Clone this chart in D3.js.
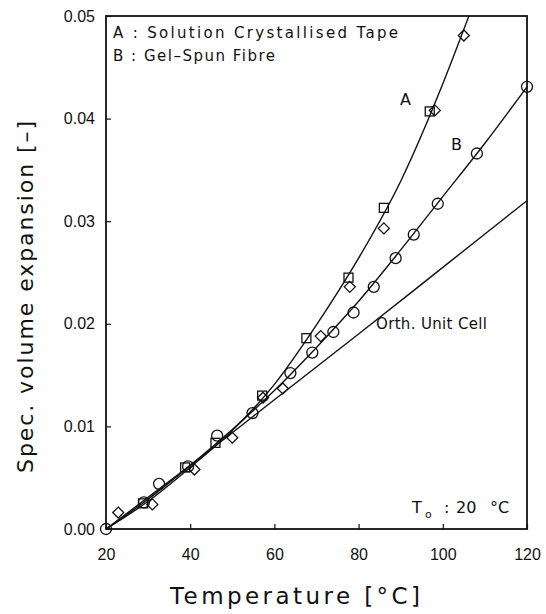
<!DOCTYPE html>
<html>
<head>
<meta charset="utf-8">
<style>
  body { margin: 0; background: #fff; }
  svg { font-family: "DejaVu Sans", sans-serif; }
  .tick text { font-size: 16px; fill: #111; }
  .tick line { stroke: #111; stroke-width: 1.2; }
  .domain { display: none; }
</style>
</head>
<body>
<svg width="546" height="614"></svg>
<script src="https://d3js.org/d3.v7.min.js"></script>
<script>
// squares: solution crystallised tape (A)
const squaresA = [[28.8,0.0025],[38.8,0.0060],[46.0,0.0084],[57.1,0.0130],[67.6,0.0186],[77.6,0.0245],[86.0,0.0313],[96.9,0.0407]];
// diamonds: second set on curve A
const diamondsA = [[22.9,0.0016],[31.0,0.0024],[41.0,0.0058],[50.0,0.0089],[57.3,0.0128],[62.0,0.0137],[71.0,0.0188],[77.9,0.0236],[86.0,0.0293],[98.1,0.0408],[105.0,0.0481]];
// circles: gel-spun fibre (B)
const circlesB = [[20.0,0.0000],[29.0,0.0026],[32.6,0.0044],[39.5,0.0061],[46.4,0.0091],[54.8,0.0113],[63.8,0.0152],[69.0,0.0172],[74.0,0.0192],[78.8,0.0211],[83.6,0.0236],[88.8,0.0264],[93.1,0.0287],[98.8,0.0317],[108.1,0.0366],[120.0,0.0431]];
// fitted curves
const curveA = [[20,0],[30,0.0027],[40,0.0060],[50,0.0096],[60,0.0141],[70,0.0199],[80,0.0264],[90,0.0339],[100,0.0434],[106.2,0.0500]];
const curveB = [[20,0],[30,0.0029],[40,0.0062],[50,0.0097],[60,0.0135],[70,0.0177],[80,0.0222],[90,0.0272],[100,0.0324],[110,0.0376],[120,0.0431]];
const orthCell = [[20,0],[40,0.0062],[60,0.0126],[80,0.0190],[100,0.0255],[120,0.0320]];

const xTicks = [20,40,60,80,100,120];
const yTicks = [0,0.01,0.02,0.03,0.04,0.05];

const svg = d3.select("svg");
const margin = {top: 16, right: 19, bottom: 85, left: 106};
const width = 546, height = 614;

const x = d3.scaleLinear().domain([20,120]).range([margin.left, width - margin.right]);
const y = d3.scaleLinear().domain([0,0.05]).range([height - margin.bottom, margin.top]);

// axes with inward ticks
svg.append("g")
    .attr("transform", `translate(0,${y(0)})`)
    .call(d3.axisBottom(x).tickValues(xTicks).tickSize(-5).tickPadding(17).tickFormat(d3.format("d")))
    .selectAll("text").attr("dy", "0.85em");

svg.append("g")
    .attr("transform", `translate(${x(20)},0)`)
    .call(d3.axisLeft(y).tickValues(yTicks).tickSize(-5).tickPadding(11).tickFormat(d3.format(".2f")));

// frame
svg.append("rect")
    .attr("x", x(20)).attr("y", y(0.05))
    .attr("width", x(120) - x(20)).attr("height", y(0) - y(0.05))
    .attr("fill", "none").attr("stroke", "#111").attr("stroke-width", 1.8);

svg.append("clipPath").attr("id", "clip")
    .append("rect").attr("x", x(20)).attr("y", y(0.05))
    .attr("width", x(120) - x(20)).attr("height", y(0) - y(0.05));

const line = d3.line().x(d => x(d[0])).y(d => y(d[1])).curve(d3.curveMonotoneX);

const plot = svg.append("g").attr("clip-path", "url(#clip)");
[curveA, curveB, orthCell].forEach(c => {
  plot.append("path").datum(c).attr("d", line)
      .attr("fill", "none").attr("stroke", "#111").attr("stroke-width", 1.4);
});

const marks = svg.append("g").attr("fill", "none").attr("stroke", "#111").attr("stroke-width", 1.3);

marks.selectAll(".sq").data(squaresA).join("rect")
    .attr("x", d => x(d[0]) - 4.5).attr("y", d => y(d[1]) - 4.5)
    .attr("width", 9).attr("height", 9);

marks.selectAll(".dm").data(diamondsA).join("path")
    .attr("d", d => {
      const cx = x(d[0]), cy = y(d[1]), r = 5.5;
      return `M${cx},${cy - r}L${cx + r},${cy}L${cx},${cy + r}L${cx - r},${cy}Z`;
    });

marks.selectAll(".ci").data(circlesB).join("circle")
    .attr("cx", d => x(d[0])).attr("cy", d => y(d[1])).attr("r", 5.5);

// labels
const txt = (t, px, py, size, anchor) => svg.append("text")
    .attr("x", px).attr("y", py).attr("font-size", size)
    .attr("text-anchor", anchor || "start").attr("fill", "#111").text(t);

txt("A : Solution Crystallised Tape", 113, 38, 15).attr("textLength", 285).attr("lengthAdjust", "spacing");
txt("B : Gel\u2013Spun Fibre", 113, 61, 15).attr("textLength", 162).attr("lengthAdjust", "spacing");
txt("A", 400, 105, 16);
txt("B", 451, 150, 16);
txt("Orth. Unit Cell", 376, 329, 15).attr("textLength", 111).attr("lengthAdjust", "spacing");

txt("T", 412, 513, 16);
txt("o", 425, 518, 11);
txt(":", 444, 513, 16);
txt("20", 456, 513, 16);
txt("\u00B0C", 490, 513, 16);

txt("Temperature [\u00B0C]", 170, 604, 23).attr("textLength", 250).attr("lengthAdjust", "spacing");

svg.append("text")
    .attr("transform", `translate(33,297) rotate(-90)`)
    .attr("text-anchor", "middle").attr("font-size", 22).attr("fill", "#111")
    .attr("textLength", 352).attr("lengthAdjust", "spacing")
    .text("Spec. volume expansion [\u2013]");
</script>
</body>
</html>
